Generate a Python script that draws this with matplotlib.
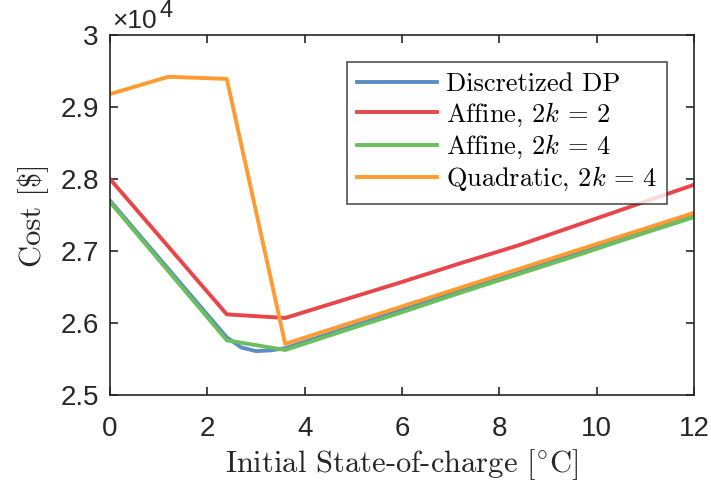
import matplotlib
matplotlib.use('Agg')
from matplotlib import pyplot as plt

plt.rcParams['font.family'] = ['Liberation Sans', 'DejaVu Sans']
plt.rcParams['mathtext.fontset'] = 'cm'

# data (cost in $)
x_coarse = [0, 1.2, 2.4, 3.6, 4.8, 6.0, 7.2, 8.4, 9.6, 10.8, 12.0]
x_dp = [0, 1.2, 2.4, 2.7, 3.0, 3.3, 3.6, 4.8, 6.0, 7.2, 8.4, 9.6, 10.8, 12.0]

cost_dp = [27700, 26750, 25800, 25660, 25610, 25620, 25650,
           25915, 26180, 26445, 26710, 26975, 27240, 27500]
cost_aff2 = [28000, 27060, 26120, 26070, 26320, 26570, 26830,
             27080, 27360, 27640, 27920]
cost_aff4 = [27680, 26720, 25760, 25625, 25890, 26150, 26420,
             26680, 26940, 27210, 27470]
cost_quad = [29180, 29420, 29390, 25710, 25970, 26230, 26490,
             26750, 27010, 27270, 27530]

labels = ['Discretized DP', 'Affine, $2k\\,=\\,2$', 'Affine, $2k\\,=\\,4$',
          'Quadratic, $2k\\,=\\,4$']
colors = ['#5a8dc2', '#e8464b', '#6bbf5e', '#ff9b30']
ink = '#262626'

fig = plt.figure(figsize=(7.11, 4.91), dpi=100)
ax = fig.add_axes([0.1547, 0.1955, 0.8213, 0.7332])

ax.plot(x_dp, [c / 1e4 for c in cost_dp], color=colors[0], lw=2.8, label=labels[0])
ax.plot(x_coarse, [c / 1e4 for c in cost_aff2], color=colors[1], lw=2.8, label=labels[1])
ax.plot(x_coarse, [c / 1e4 for c in cost_aff4], color=colors[2], lw=2.8, label=labels[2])
ax.plot(x_coarse, [c / 1e4 for c in cost_quad], color=colors[3], lw=2.8, label=labels[3])

ax.set_xlim(0, 12)
ax.set_ylim(2.5, 3.0)
ax.set_xticks([0, 2, 4, 6, 8, 10, 12])
ax.set_yticks([2.5, 2.6, 2.7, 2.8, 2.9, 3.0])
ax.set_yticklabels(['2.5', '2.6', '2.7', '2.8', '2.9', '3'])
ax.tick_params(direction='in', top=True, right=True, labelsize=20,
               length=6, width=1.2, colors=ink)
ax.tick_params(axis='x', pad=15)
ax.tick_params(axis='y', pad=8)
for s in ax.spines.values():
    s.set_linewidth(1.2)
    s.set_color(ink)

ax.set_xlabel('Initial State-of-charge $[{}^{\\circ}\\mathrm{C}]$', fontfamily='cmr10',
              fontsize=22, color=ink, labelpad=4)
ax.set_ylabel('Cost [\\$]', fontfamily='cmr10', fontsize=22, color=ink, labelpad=8)

# exponent label, Matlab style
fig.text(112 / 711, 1 - 28 / 491, '\u00d710', fontsize=19, color=ink,
         ha='left', va='baseline')
fig.text(160 / 711, 1 - 17 / 491, '4', fontsize=17, color=ink,
         ha='left', va='baseline')

leg = ax.legend(loc='upper right', bbox_to_anchor=(0.954, 0.925),
                prop={'family': 'cmr10', 'size': 19}, frameon=True, fancybox=False,
                handlelength=3.0, borderpad=0.4, labelspacing=0.15,
                handletextpad=0.35, borderaxespad=0)
leg.get_frame().set_edgecolor(ink)
leg.get_frame().set_linewidth(1.2)

fig.savefig('out.png', dpi=100)
